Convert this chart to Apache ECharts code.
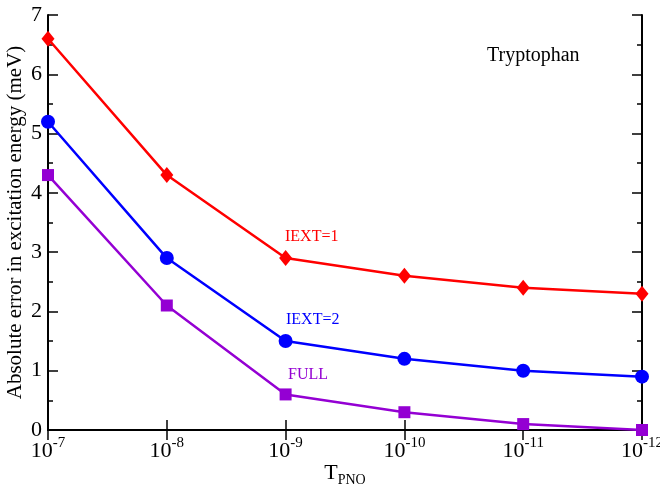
<!DOCTYPE html>
<html><head><meta charset="utf-8">
<script src="https://cdn.jsdelivr.net/npm/echarts@6/dist/echarts.min.js"></script>
<style>html,body{margin:0;padding:0;background:#fff}#c{width:660px;height:485px}</style>
</head><body><div id="c"></div>
<script>
var categories = ['-7','-8','-9','-10','-11','-12'];
var iext1 = [6.6, 4.3, 2.9, 2.6, 2.4, 2.3];
var iext2 = [5.2, 2.9, 1.5, 1.2, 1.0, 0.9];
var full = [4.3, 2.1, 0.6, 0.3, 0.1, 0.0];
var yTicks = [0,1,2,3,4,5,6,7];

var FONT = 'Liberation Serif';
var chart = echarts.init(document.getElementById('c'));
var axisLine = {show:true, lineStyle:{color:'#000', width:2}};
chart.setOption({
  animation:false,
  grid:{left:48, right:18, top:15, bottom:55, containLabel:false, outerBoundsMode:'none'},
  xAxis:[{
    type:'category', data:categories, boundaryGap:false,
    axisLine:axisLine,
    axisTick:{show:true, inside:true, length:10, alignWithLabel:true, lineStyle:{color:'#000', width:1.5}},
    axisLabel:{margin:6, fontFamily:FONT, color:'#000',
      formatter:function(v){return '{b|10}{s|'+v+'}';},
      rich:{b:{fontFamily:FONT,fontSize:22,color:'#000',verticalAlign:'bottom',lineHeight:26},
            s:{fontFamily:FONT,fontSize:15,color:'#000',verticalAlign:'top',lineHeight:26,padding:[0,0,12,0]}}},
    splitLine:{show:false},
    name:'T{s|PNO}', nameLocation:'middle', nameGap:29, nameMoveOverlap:false,
    nameTextStyle:{fontFamily:FONT, fontSize:22, color:'#000',
      rich:{s:{fontFamily:FONT,fontSize:14,color:'#000',padding:[14,0,0,0]}}}
  },{
    type:'category', data:categories, boundaryGap:false, position:'top',
    axisLine:axisLine,
    axisTick:{show:true, inside:true, length:10, lineStyle:{color:'#000', width:1.5}},
    axisLabel:{show:false}, splitLine:{show:false}
  }],
  yAxis:[{
    type:'value', min:0, max:7, interval:1,
    axisLine:axisLine,
    axisTick:{show:true, inside:true, length:10, lineStyle:{color:'#000', width:1.5}},
    minorTick:{show:true, splitNumber:2, length:5, lineStyle:{color:'#000', width:1.5}},
    axisLabel:{fontFamily:FONT, fontSize:22, color:'#000', margin:6},
    splitLine:{show:false},
    name:'Absolute error in excitation energy (meV)', nameLocation:'middle', nameGap:22, nameMoveOverlap:false,
    nameTextStyle:{fontFamily:FONT, fontSize:21, color:'#000'}
  },{
    type:'value', min:0, max:7, interval:1, position:'right',
    axisLine:axisLine,
    axisTick:{show:true, inside:true, length:10, lineStyle:{color:'#000', width:1.5}},
    minorTick:{show:true, splitNumber:2, length:5, lineStyle:{color:'#000', width:1.5}},
    axisLabel:{show:false}, splitLine:{show:false}
  }],
  series:[
    {type:'line', data:iext1, symbol:'diamond', symbolSize:[13,16], color:'#ff0000',
     lineStyle:{width:2.5, color:'#ff0000'}, itemStyle:{color:'#ff0000'}},
    {type:'line', data:iext2, symbol:'circle', symbolSize:14, color:'#0000ff',
     lineStyle:{width:2.5, color:'#0000ff'}, itemStyle:{color:'#0000ff'}},
    {type:'line', data:full, symbol:'rect', symbolSize:12, color:'#9400d3',
     lineStyle:{width:2.5, color:'#9400d3'}, itemStyle:{color:'#9400d3'}}
  ],
  graphic:[
    {type:'text', left:285, top:229, style:{text:'IEXT=1', fontFamily:FONT, fontSize:16, fill:'#ff0000'}},
    {type:'text', left:286, top:312, style:{text:'IEXT=2', fontFamily:FONT, fontSize:16, fill:'#0000ff'}},
    {type:'text', left:288, top:367, style:{text:'FULL', fontFamily:FONT, fontSize:16, fill:'#9400d3'}},
    {type:'text', left:487, top:46, style:{text:'Tryptophan', fontFamily:FONT, fontSize:20, fill:'#000'}}
  ]
});
</script></body></html>
